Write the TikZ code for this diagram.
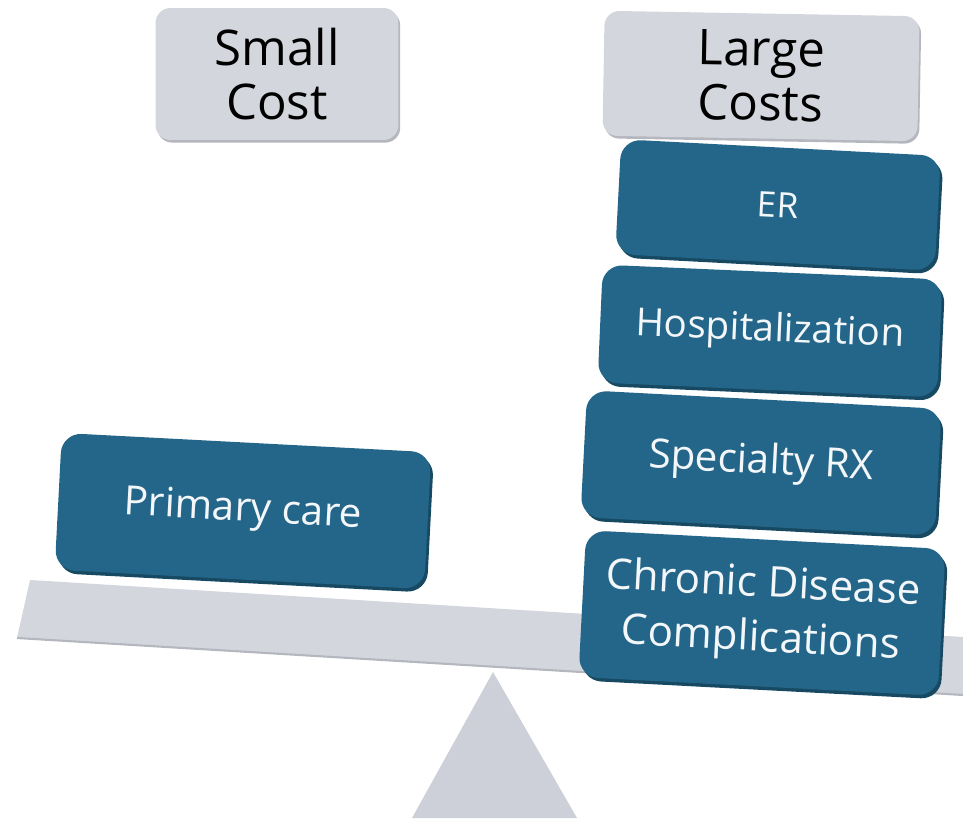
\documentclass[tikz,border=0pt]{standalone}
\usepackage{fontspec}
\setmainfont{Open Sans}
\usetikzlibrary{shadows}
\definecolor{costblue}{HTML}{246689}
\definecolor{costdark}{HTML}{174A62}
\definecolor{panelgray}{HTML}{D4D6DD}
\definecolor{paneldark}{HTML}{B4B7BE}
\definecolor{fulcrumgray}{HTML}{CDD0D8}

\begin{document}
\begin{tikzpicture}[x=0.02cm, y=-0.02cm,
costnode/.style={rectangle, rounded corners=0.4cm, fill=costblue, text=white!95!costblue, align=center, inner sep=0pt, font=\fontsize{23}{28.5}\selectfont, drop shadow={shadow xshift=1.5pt, shadow yshift=-2pt, fill=costdark, opacity=1}},
labelnode/.style={rectangle, rounded corners=0.3cm, fill=panelgray, text=black, align=center, inner sep=0pt, font=\fontsize{28}{31}\selectfont, drop shadow={shadow xshift=1pt, shadow yshift=-1.5pt, fill=paneldark, opacity=1}},
]
\useasboundingbox (0,0) rectangle (963,820);

%Beam and fulcrum
\coordinate (beamtl) at (30,580);
\coordinate (beamtr) at (963,637);
\coordinate (beambr) at (963,695);
\coordinate (beambl) at (17,638);
\fill[panelgray] (beamtl) -- (beamtr) -- (beambr) -- (beambl) -- cycle;
\draw[paneldark, line width=1.2pt] (beambl) -- (beambr);
\fill[fulcrumgray] (493,672) -- (577,818) -- (412,818) -- cycle;

%Nodes
\node[labelnode, minimum width=4.86cm, minimum height=2.64cm] (small) at (277,74) {Small\\Cost};
\node[labelnode, minimum width=6.3cm, minimum height=2.5cm, rotate=-1] (large) at (761,76) {Large\\Costs};
\node[costnode, minimum width=6.4cm, minimum height=2.3cm, rotate=-3, font=\fontsize{20}{24}\selectfont] (er) at (778,205) {ER};
\node[costnode, minimum width=6.8cm, minimum height=2.36cm, rotate=-2.5, font=\fontsize{22}{26}\selectfont] (hosp) at (770,331) {Hospitalization};
\node[costnode, minimum width=7.1cm, minimum height=2.54cm, rotate=-3] (specrx) at (761,463) {Specialty RX};
\node[costnode, minimum width=7.2cm, minimum height=2.94cm, rotate=-3, font=\fontsize{24}{31}\selectfont] (chronic) at (762,613) {Chronic Disease\\Complications};
\node[costnode, minimum width=7.4cm, minimum height=2.74cm, rotate=-3] (primary) at (243,511) {Primary care};

\end{tikzpicture}
\end{document}
